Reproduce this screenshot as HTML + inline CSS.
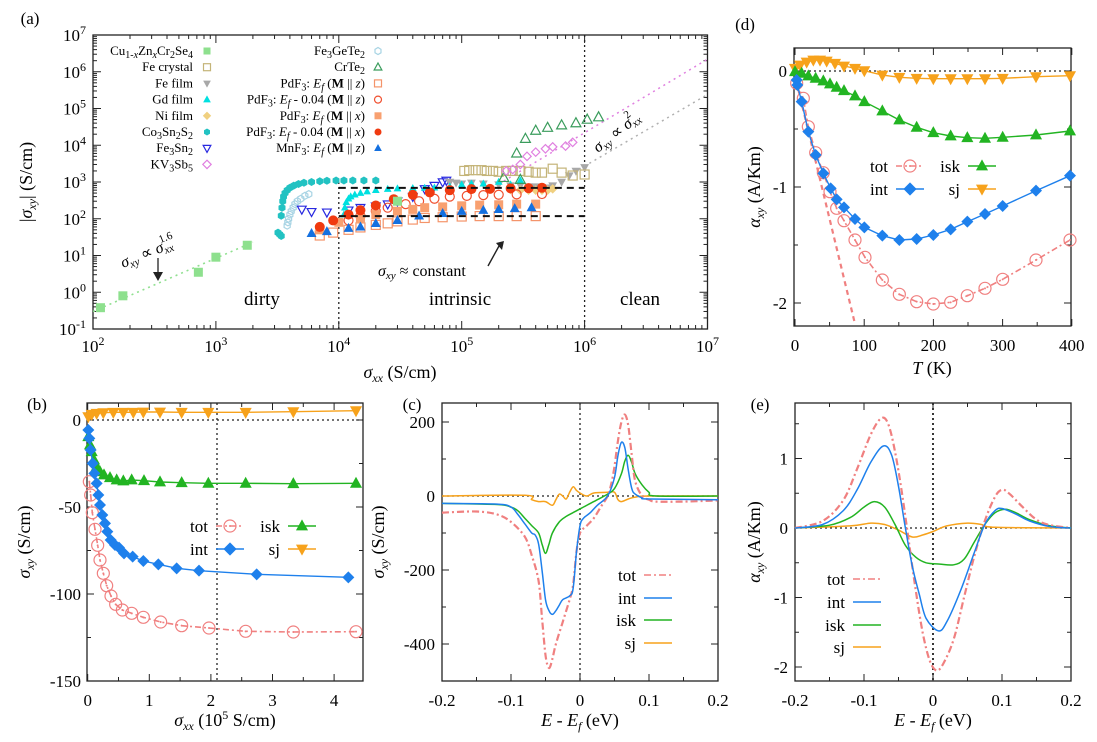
<!DOCTYPE html>
<html><head><meta charset="utf-8">
<style>
html,body{margin:0;padding:0;background:#fff;}
svg{display:block;font-family:"Liberation Serif",serif;}
</style></head>
<body>
<svg id="s" width="1097" height="742" viewBox="0 0 1097 742" xmlns="http://www.w3.org/2000/svg"></svg>
<script>
var o=[];
function P(s){o.push(s);}
function mk(t,x,y,c,r){r=r||4;
 var open=t[0]=='o';var k=open?t.slice(1):t;
 var st=open?'fill="none" stroke="'+c+'" stroke-width="1.2"':'fill="'+c+'"';
 if(k=='sq')P('<rect x="'+(x-r)+'" y="'+(y-r)+'" width="'+2*r+'" height="'+2*r+'" '+st+'/>');
 else if(k=='ci')P('<circle cx="'+x+'" cy="'+y+'" r="'+r+'" '+st+'/>');
 else if(k=='tu')P('<polygon points="'+x+','+(y-r*1.2)+' '+(x+r*1.1)+','+(y+r*0.8)+' '+(x-r*1.1)+','+(y+r*0.8)+'" '+st+'/>');
 else if(k=='td')P('<polygon points="'+x+','+(y+r*1.2)+' '+(x+r*1.1)+','+(y-r*0.8)+' '+(x-r*1.1)+','+(y-r*0.8)+'" '+st+'/>');
 else if(k=='di')P('<polygon points="'+x+','+(y-r*1.2)+' '+(x+r*1.2)+','+y+' '+x+','+(y+r*1.2)+' '+(x-r*1.2)+','+y+'" '+st+'/>');
 else if(k=='hx'){var p=[];for(var i=0;i<6;i++){var a=Math.PI/3*i+Math.PI/6;p.push((x+r*Math.cos(a)).toFixed(1)+','+(y+r*Math.sin(a)).toFixed(1));}P('<polygon points="'+p.join(' ')+'" '+st+'/>');}
}
function line(pts,c,w,dash){P('<polyline points="'+pts.map(function(p){return p[0].toFixed(1)+','+p[1].toFixed(1)}).join(' ')+'" fill="none" stroke="'+c+'" stroke-width="'+w+'"'+(dash?' stroke-dasharray="'+dash+'"':'')+'/>');}
function sline(pts,c,w,dash){var d='M'+pts[0][0].toFixed(1)+','+pts[0][1].toFixed(1);
 for(var i=0;i<pts.length-1;i++){var p0=pts[Math.max(0,i-1)],p1=pts[i],p2=pts[i+1],p3=pts[Math.min(pts.length-1,i+2)];
  var c1=[p1[0]+(p2[0]-p0[0])/6,p1[1]+(p2[1]-p0[1])/6],c2=[p2[0]-(p3[0]-p1[0])/6,p2[1]-(p3[1]-p1[1])/6];
  d+=' C'+c1[0].toFixed(1)+','+c1[1].toFixed(1)+' '+c2[0].toFixed(1)+','+c2[1].toFixed(1)+' '+p2[0].toFixed(1)+','+p2[1].toFixed(1);}
 P('<path d="'+d+'" fill="none" stroke="'+c+'" stroke-width="'+w+'"'+(dash?' stroke-dasharray="'+dash+'"':'')+'/>');}
function T(x,y,s,sz,anc,extra){P('<text x="'+x+'" y="'+y+'" font-size="'+(sz||16)+'" text-anchor="'+(anc||'middle')+'" '+(extra||'')+'>'+s+'</text>');}
function box(x0,y0,x1,y1){P('<rect x="'+x0+'" y="'+y0+'" width="'+(x1-x0)+'" height="'+(y1-y0)+'" fill="none" stroke="#222" stroke-width="1.3"/>');}
function tk(x0,y0,x1,y1,xs,ys,L){L=L||6;xs.forEach(function(x){P('<line x1="'+x+'" y1="'+y1+'" x2="'+x+'" y2="'+(y1-L)+'" stroke="#222"/><line x1="'+x+'" y1="'+y0+'" x2="'+x+'" y2="'+(y0+L)+'" stroke="#222"/>');});
 ys.forEach(function(y){P('<line x1="'+x0+'" y1="'+y+'" x2="'+(x0+L)+'" y2="'+y+'" stroke="#222"/><line x1="'+x1+'" y1="'+y+'" x2="'+(x1-L)+'" y2="'+y+'" stroke="#222"/>');});}
var PINK='#f08080',BLUE='#1e80ec',GREEN='#22b422',ORANGE='#f7a21b';

/* ---------- panel a ---------- */
var ax0=93,ax1=707.5,ay0=35,ay1=329;
function AX(v){return ax0+(Math.log10(v)-2)*122.9;}
function AY(v){return ay1-(Math.log10(v)+1)*36.75;}
T(30,24,'(a)',17);
box(ax0,ay0,ax1,ay1);
var xs=[],xm=[],ys=[],ym=[];
for(var d=2;d<=7;d++){xs.push(AX(Math.pow(10,d)));if(d<7)for(var m=2;m<10;m++)xm.push(AX(m*Math.pow(10,d)));}
for(var d=-1;d<=7;d++){ys.push(AY(Math.pow(10,d)));if(d<7)for(var m=2;m<10;m++)ym.push(AY(m*Math.pow(10,d)));}
tk(ax0,ay0,ax1,ay1,xs,ys,8);tk(ax0,ay0,ax1,ay1,xm,ym,4);
for(var d=2;d<=7;d++)T(AX(Math.pow(10,d)),352,'10<tspan dy="-7" font-size="12">'+d+'</tspan>',17);
for(var d=-1;d<=7;d++)T(86,AY(Math.pow(10,d))+6,'10<tspan dy="-7" font-size="12">'+d+'</tspan>',17,'end');
T(400,378,'<tspan font-style="italic">σ</tspan><tspan font-style="italic" font-size="12" dy="4">xx</tspan><tspan dy="-4"> (S/cm)</tspan>',18);
P('<text transform="translate(32,182) rotate(-90)" font-size="18" text-anchor="middle">|<tspan font-style="italic">σ</tspan><tspan font-style="italic" font-size="12" dy="4">xy</tspan><tspan dy="-4">| (S/cm)</tspan></text>');
line([[AX(1e4),182],[AX(1e4),ay1]],'#222',1.3,'2,3');
line([[AX(1e6),ay0],[AX(1e6),ay1]],'#222',1.3,'2,3');
line([[AX(100),AY(0.3)],[AX(2000),AY(23)]],'#90e090',1.6,'2,4');
line([[AX(2.2e5),AY(1060)],[AX(1e7),AY(2.2e6)]],'#e080e0',1.5,'2,4');
line([[AX(9e5),AY(2200)],[AX(1e7),AY(2.4e5)]],'#b0b0b0',1.5,'2,4');
function S(arr,t,c,r){arr.forEach(function(p){mk(t,AX(p[0]),AY(p[1]),c,r);});}
S([[3200,42],[3300,38],[3400,34],[3400,120],[3450,200],[3500,300],[3550,400],[3650,500],[3800,600],[4000,700],[4300,800],[4700,880],[5200,950],[6000,1000],[7000,1050],[8000,1080],[9500,1100],[11000,1100],[13000,1100],[16000,1100],[20000,1100]],'hx','#22c2c2',4);
S([[3800,65],[3850,80],[3900,100],[4000,130],[4100,160],[4250,200],[4400,250],[4600,300],[4900,350],[5300,420],[5700,470]],'ohx','#a8d4e4',3.5);
S([[5000,180],[6000,155],[8000,150],[12000,170],[15000,200],[20000,220],[25000,250],[30000,300],[40000,400],[50000,650],[60000,800],[70000,1000],[75000,1100]],'otd','#2828e0',4);
S([[8e4,1000],[9e4,950],[1e5,900],[1.2e5,950],[1.5e5,900],[2e5,850],[2.5e5,800],[3e5,800],[3.5e5,750],[4e5,750],[5e5,700],[5.5e5,800],[6.5e5,1000],[7.5e5,1500],[8.5e5,2000],[1e6,2500]],'td','#a8a8a8',4);
S([[11000,130],[11200,200],[11500,280],[12000,350],[12500,400],[13500,450],[15000,500],[17000,550],[20000,600],[25000,640],[30000,660],[40000,680],[50000,690],[60000,700],[80000,750],[1e5,850],[1.2e5,900],[1.5e5,900],[2e5,1000],[2.5e5,850],[3e5,1100]],'tu','#00e0e0',3.5);
S([[2.5e5,620],[3e5,600],[3.5e5,600],[4e5,600],[4.5e5,600],[5e5,600],[5.5e5,650]],'di','#f0d080',4);
S([[1.05e5,2000],[1.15e5,2100],[1.3e5,2100],[1.45e5,2100],[1.6e5,2000],[1.8e5,2000],[2e5,1900],[2.3e5,2000],[2.6e5,2000],[3e5,2000],[3.5e5,1900],[4e5,1800],[4.5e5,1800],[5.5e5,2300],[6.5e5,1800],[8e5,1500],[1e6,1600]],'osq','#c4b478',4.5);
S([[2.2e5,1300],[3e5,1150],[2.8e5,6000],[3.3e5,15000],[4e5,25000],[5e5,30000],[6.5e5,35000],[8.5e5,40000],[1.05e6,50000],[1.3e6,58000]],'otu','#3a9c5c',4.5);
S([[2.3e5,2000],[2.6e5,2200],[3e5,3000],[3.4e5,5000],[4e5,6500],[4.8e5,8000],[5.5e5,9000],[7e5,9500],[8e5,12000]],'odi','#e080e0',3.5);
S([[7000,35],[9000,42],[12000,50],[15000,58],[20000,68],[25000,75],[30000,85],[40000,95],[50000,105],[70000,110],[1e5,115],[1.4e5,118],[2e5,118],[2.8e5,118],[4e5,118]],'osq','#f4946a',4.5);
S([[12000,90],[15000,120],[20000,160],[25000,200],[35000,250],[45000,300],[60000,350],[80000,400],[1.1e5,420],[1.5e5,440],[2e5,450],[2.8e5,460],[4.5e5,470]],'oci','#f05030',4.5);
S([[7000,50],[1e4,80],[1.5e4,100],[2e4,130],[3e4,160],[4e4,180],[5e4,200],[7e4,210],[1e5,225],[1.4e5,235],[2e5,240],[2.8e5,250],[4e5,250]],'sq','#f8a070',4.5);
S([[7000,60],[9000,90],[12000,130],[15000,170],[20000,230],[28000,340],[40000,450],[55000,520],[80000,600],[1.2e5,640],[1.7e5,650],[2.5e5,670],[3.5e5,680],[4.5e5,700]],'ci','#f03a10',5);
S([[6000,40],[8000,45],[12000,55],[15000,60],[20000,75],[30000,90],[45000,120],[70000,140],[1e5,160],[1.5e5,170],[2e5,180],[2.7e5,190],[3.7e5,200]],'tu','#1470e0',4.5);
S([[115,0.38],[175,0.8],[720,3.5],[1000,9],[1800,19],[30000,300]],'sq','#8ee08e',4.5);
line([[AX(1e4),AY(690)],[AX(1e6),AY(690)]],'#111',2,'7,5');
line([[AX(1e4),AY(118)],[AX(1e6),AY(118)]],'#111',2,'7,5');
var L1=[['Cu<tspan font-size="10" dy="3">1-<tspan font-style="italic">x</tspan></tspan><tspan dy="-3">Zn</tspan><tspan font-size="10" font-style="italic" dy="3">x</tspan><tspan dy="-3">Cr</tspan><tspan font-size="10" dy="3">2</tspan><tspan dy="-3">Se</tspan><tspan font-size="10" dy="3">4</tspan>','sq','#8ee08e'],
['Fe crystal','osq','#c4b478'],['Fe film','td','#a8a8a8'],['Gd film','tu','#00e0e0'],['Ni film','di','#f0d080'],
['Co<tspan font-size="10" dy="3">3</tspan><tspan dy="-3">Sn</tspan><tspan font-size="10" dy="3">2</tspan><tspan dy="-3">S</tspan><tspan font-size="10" dy="3">2</tspan>','hx','#22c2c2'],
['Fe<tspan font-size="10" dy="3">3</tspan><tspan dy="-3">Sn</tspan><tspan font-size="10" dy="3">2</tspan>','otd','#2828e0'],
['KV<tspan font-size="10" dy="3">3</tspan><tspan dy="-3">Sb</tspan><tspan font-size="10" dy="3">5</tspan>','odi','#e080e0']];
L1.forEach(function(l,i){var y=51+i*16.2;T(193,y+4,l[0],13,'end');mk(l[1],207,y,l[2],3.5);});
var Ef='<tspan font-style="italic">E</tspan><tspan font-style="italic" font-size="10" dy="3">f</tspan><tspan dy="-3">',
Mz=' (<tspan font-weight="bold">M</tspan> || <tspan font-style="italic">z</tspan>)',Mx=' (<tspan font-weight="bold">M</tspan> || <tspan font-style="italic">x</tspan>)';
var L2=[['Fe<tspan font-size="10" dy="3">3</tspan><tspan dy="-3">GeTe</tspan><tspan font-size="10" dy="3">2</tspan>','ohx','#a8d4e4'],
['CrTe<tspan font-size="10" dy="3">2</tspan>','otu','#3a9c5c'],
['PdF<tspan font-size="10" dy="3">3</tspan><tspan dy="-3">: </tspan>'+Ef+Mz+'</tspan>','osq','#f4946a'],
['PdF<tspan font-size="10" dy="3">3</tspan><tspan dy="-3">: </tspan>'+Ef+' - 0.04'+Mz+'</tspan>','oci','#f05030'],
['PdF<tspan font-size="10" dy="3">3</tspan><tspan dy="-3">: </tspan>'+Ef+Mx+'</tspan>','sq','#f8a070'],
['PdF<tspan font-size="10" dy="3">3</tspan><tspan dy="-3">: </tspan>'+Ef+' - 0.04'+Mx+'</tspan>','ci','#f03a10'],
['MnF<tspan font-size="10" dy="3">3</tspan><tspan dy="-3">: </tspan>'+Ef+Mz+'</tspan>','tu','#1470e0']];
L2.forEach(function(l,i){var y=51+i*16.2;T(365,y+4,l[0],13,'end');mk(l[1],378,y,l[2],3.5);});
T(262,305,'dirty',19);T(460,305,'intrinsic',19);T(640,305,'clean',19);
P('<g transform="translate(123,268) rotate(-22)"><text font-size="16"><tspan font-style="italic">σ</tspan><tspan font-style="italic" font-size="11" dy="3">xy</tspan><tspan dy="-3"> ∝ </tspan><tspan font-style="italic">σ</tspan><tspan font-style="italic" font-size="11" dy="3">xx</tspan></text><text x="44" y="-9" font-size="11">1.6</text></g>');
line([[158,258],[158,276]],'#222',1.3);P('<polygon points="153,272 163,272 158,281" fill="#222"/>');
P('<text x="378" y="276" font-size="16"><tspan font-style="italic">σ</tspan><tspan font-style="italic" font-size="11" dy="3">xy</tspan><tspan dy="-3"> ≈ constant</tspan></text>');
line([[488,266],[499,246]],'#222',1.4);P('<polygon points="496,243 504,241 502,250" fill="#222"/>');
P('<g transform="translate(598,153) rotate(-38)"><text font-size="16"><tspan font-style="italic">σ</tspan><tspan font-style="italic" font-size="11" dy="3">xy</tspan><tspan dy="-3"> ∝ </tspan><tspan font-style="italic">σ</tspan><tspan font-style="italic" font-size="11" dy="3">xx</tspan></text><text x="44" y="-9" font-size="11">2</text></g>');

/* ---------- panel d ---------- */
var dx0=794,dx1=1071,dy0=48,dy1=326;
function DX(t){return 795+t*0.692;}function DY(v){return 71-v*116;}
T(745,30,'(d)',17);box(dx0,dy0,dx1,dy1);
tk(dx0,dy0,dx1,dy1,[0,100,200,300,400].map(DX),[0,-1,-2].map(DY),7);
tk(dx0,dy0,dx1,dy1,[50,150,250,350].map(DX),[-0.5,-1.5].map(DY),4);
[0,100,200,300,400].forEach(function(t){T(DX(t),351,t,17);});
T(787,77,'0',17,'end');T(787,193,'-1',17,'end');T(787,309,'-2',17,'end');
T(932,374,'<tspan font-style="italic">T</tspan> (K)',18);
P('<text transform="translate(760,187) rotate(-90)" font-size="18" text-anchor="middle"><tspan font-style="italic">α</tspan><tspan font-style="italic" font-size="12" dy="4">xy</tspan><tspan dy="-4"> (A/Km)</tspan></text>');
line([[dx0,71],[dx1,71]],'#222',1.3,'2,3');
function Z(arr){return arr.map(function(p){return [720+p[0]/3,p[1]/3];});}
var dtot=Z([[230,250],[250,295],[265,380],[287,458],[310,518],[330,575],[350,625],[372,662],[405,720],[435,772],[487,840],[538,883],[590,905],[640,912],[692,907],[742,887],[795,865],[848,838],[948,780],[1050,720]]);
var dint=Z([[230,240],[232,255],[245,305],[265,395],[287,465],[310,520],[332,565],[350,598],[372,622],[405,657],[433,682],[487,707],[538,720],[590,717],[640,705],[692,688],[742,665],[795,642],[848,618],[948,572],[1050,527]]);
var disk=Z([[225,215],[245,220],[265,228],[287,235],[310,243],[330,252],[350,262],[372,272],[405,288],[433,305],[487,333],[538,360],[590,382],[640,398],[692,408],[742,413],[795,415],[848,412],[948,405],[1050,393]]);
var dsj=Z([[225,205],[240,195],[260,186],[280,180],[300,180],[320,183],[345,190],[372,198],[405,205],[433,212],[487,225],[538,232],[590,235],[640,236],[692,236],[742,236],[795,236],[848,235],[948,230],[1050,227]]);
line(Z([[228,240],[405,972]]),PINK,2.2,'5,4');
line(dsj,ORANGE,1.4);dsj.forEach(function(p){mk('td',p[0],p[1],ORANGE,5.5);});
line(disk,GREEN,1.4);disk.forEach(function(p){mk('tu',p[0],p[1],GREEN,5.5);});
line(dtot,PINK,1.6,'6,3,2,3');dtot.forEach(function(p){mk('oci',p[0],p[1],PINK,6);mk('ci',p[0],p[1],PINK,1);});
line(dint,BLUE,1.4);dint.forEach(function(p){mk('di',p[0],p[1],BLUE,5);});
function leg(x,y,name,c,dash,m,w){T(x,y+6,name,17,'end');line([[x+8,y],[x+8+(w||28),y]],c,1.6,dash);if(m){mk(m,x+8+(w||28)/2,y,c,m=='oci'?6:5.5);if(m=='oci')mk('ci',x+22,y,c,1);}}
leg(888,166,'tot',PINK,'6,3,2,3','oci',28);leg(960,166,'isk',GREEN,null,'tu',28);
leg(888,189,'int',BLUE,null,'di',28);leg(960,189,'sj',ORANGE,null,'td',28);

/* ---------- panel b ---------- */
var bx0=87,bx1=363,by0=403,by1=681;
function BX(v){return 87.7+v*61.6;}function BY(v){return 420-v*1.74;}
T(37,410,'(b)',17);box(bx0,by0,bx1,by1);
tk(bx0,by0,bx1,by1,[0,1,2,3,4].map(BX),[0,-50,-100,-150].map(BY),7);
tk(bx0,by0,bx1,by1,[0.5,1.5,2.5,3.5].map(BX),[-25,-75,-125].map(BY),4);
[0,1,2,3,4].forEach(function(t){T(BX(t),706,t,17);});
[0,-50,-100,-150].forEach(function(t){T(81,BY(t)+6,t,17,'end');});
T(225,726,'<tspan font-style="italic">σ</tspan><tspan font-style="italic" font-size="12" dy="4">xx</tspan><tspan dy="-4"> (10</tspan><tspan font-size="12" dy="-7">5</tspan><tspan dy="7"> S/cm)</tspan>',18);
P('<text transform="translate(30,542) rotate(-90)" font-size="18" text-anchor="middle"><tspan font-style="italic">σ</tspan><tspan font-style="italic" font-size="12" dy="4">xy</tspan><tspan dy="-4"> (S/cm)</tspan></text>');
line([[bx0,420],[bx1,420]],'#222',1.3,'2,3');line([[217,by0],[217,by1]],'#222',1.3,'2,3');
function ZB(arr){return arr.map(function(p){return [p[0]/3,380+p[1]/3];});}
var btot=ZB([[268,305],[272,345],[277,398],[285,448],[293,496],[300,540],[310,580],[320,617],[333,648],[347,673],[367,690],[395,700],[430,712],[482,726],[545,737],[627,744],[737,754],[880,756],[1068,755]]);
var bint=ZB([[265,150],[268,175],[272,210],[278,250],[283,280],[290,310],[295,345],[300,375],[307,405],[315,430],[322,455],[332,480],[345,495],[357,503],[372,520],[398,530],[430,543],[475,553],[530,565],[597,572],[770,583],[1045,592]]);
var bisk=ZB([[265,170],[270,195],[275,215],[282,240],[290,260],[300,275],[312,285],[330,293],[350,300],[370,303],[395,300],[432,302],[480,306],[545,308],[625,310],[737,310],[880,311],[1068,310]]);
var bsj=ZB([[265,110],[275,103],[290,100],[310,98],[340,97],[370,97],[400,97],[430,96],[480,96],[545,97],[625,97],[737,97],[880,95],[1068,92]]);
line(bsj,ORANGE,1.4);bsj.forEach(function(p){mk('td',p[0],p[1],ORANGE,5.5);});
line(bisk,GREEN,1.4);bisk.forEach(function(p){mk('tu',p[0],p[1],GREEN,5.5);});
line(btot,PINK,1.6,'6,3,2,3');btot.forEach(function(p){mk('oci',p[0],p[1],PINK,6);mk('ci',p[0],p[1],PINK,1);});
line(bint,BLUE,1.4);bint.forEach(function(p){mk('di',p[0],p[1],BLUE,5);});
leg(208,526,'tot',PINK,'6,3,2,3','oci',28);leg(280,526,'isk',GREEN,null,'tu',28);
leg(208,549,'int',BLUE,null,'di',28);leg(280,549,'sj',ORANGE,null,'td',28);

/* ---------- panel c ---------- */
var cx0=442,cx1=718,cy0=403,cy1=681;
function CX(e){return 580+e*690;}function CY(v){return 496-v*0.37;}
T(412,410,'(c)',17);box(cx0,cy0,cx1,cy1);
tk(cx0,cy0,cx1,cy1,[-0.2,-0.1,0,0.1,0.2].map(CX),[200,0,-200,-400].map(CY),7);
tk(cx0,cy0,cx1,cy1,[-0.15,-0.05,0.05,0.15].map(CX),[100,-100,-300].map(CY),4);
[-0.2,-0.1,0,0.1,0.2].forEach(function(t){T(CX(t),706,t,17);});
[200,0,-200,-400].forEach(function(t){T(435,CY(t)+6,t,17,'end');});
T(580,726,'<tspan font-style="italic">E</tspan> - <tspan font-style="italic">E</tspan><tspan font-style="italic" font-size="12" dy="4">f</tspan><tspan dy="-4"> (eV)</tspan>',18);
P('<text transform="translate(384,542) rotate(-90)" font-size="18" text-anchor="middle"><tspan font-style="italic">σ</tspan><tspan font-style="italic" font-size="12" dy="4">xy</tspan><tspan dy="-4"> (S/cm)</tspan></text>');
line([[cx0,496],[cx1,496]],'#222',1.3,'2,3');line([[580,cy0],[580,cy1]],'#222',1.3,'2,3');
function C(arr){return arr.map(function(p){return [CX(p[0]),CY(p[1])];});}
sline(C([[-0.2,0],[-0.08,2],[-0.07,-10],[-0.06,-15],[-0.05,-15],[-0.04,-25],[-0.035,-10],[-0.03,5],[-0.025,0],[-0.02,-8],[-0.015,10],[-0.01,25],[-0.005,15],[0,8],[0.01,0],[0.02,8],[0.04,10],[0.05,10],[0.055,-10],[0.06,-15],[0.07,-8],[0.08,-3],[0.1,0],[0.2,0]]),ORANGE,1.5);
sline(C([[-0.2,-20],[-0.12,-23],[-0.1,-30],[-0.09,-40],[-0.08,-60],[-0.07,-80],[-0.06,-100],[-0.055,-130],[-0.05,-155],[-0.045,-130],[-0.04,-100],[-0.03,-70],[-0.02,-55],[-0.01,-45],[0,-35],[0.02,-15],[0.04,5],[0.05,20],[0.06,60],[0.065,95],[0.07,110],[0.075,90],[0.08,60],[0.09,30],[0.1,10],[0.11,0],[0.2,0]]),GREEN,1.5);
sline(C([[-0.2,-45],[-0.15,-42],[-0.12,-50],[-0.1,-70],[-0.08,-110],[-0.07,-160],[-0.06,-230],[-0.055,-330],[-0.05,-430],[-0.045,-465],[-0.04,-440],[-0.035,-400],[-0.025,-340],[-0.015,-280],[-0.01,-240],[-0.005,-150],[0,-100],[0.01,-80],[0.02,-60],[0.03,-30],[0.04,0],[0.045,30],[0.05,80],[0.055,150],[0.06,200],[0.065,220],[0.07,190],[0.075,110],[0.08,40],[0.09,0],[0.1,-10],[0.11,-15],[0.15,-15],[0.2,-12]]),PINK,2.2,'7,3,2,3');
sline(C([[-0.2,-20],[-0.12,-22],[-0.1,-30],[-0.09,-50],[-0.08,-75],[-0.07,-100],[-0.065,-105],[-0.06,-130],[-0.055,-200],[-0.05,-280],[-0.045,-310],[-0.04,-320],[-0.035,-310],[-0.03,-295],[-0.025,-280],[-0.015,-270],[-0.01,-250],[-0.005,-150],[0,-80],[0.005,-60],[0.015,-45],[0.025,-25],[0.04,0],[0.05,50],[0.055,110],[0.06,145],[0.065,130],[0.07,70],[0.075,20],[0.08,5],[0.09,-5],[0.1,-8],[0.2,-10]]),BLUE,1.5);
leg(636,575,'tot',PINK,'7,3,2,3',null,28);leg(636,598,'int',BLUE,null,null,28);leg(636,620,'isk',GREEN,null,null,28);leg(636,643,'sj',ORANGE,null,null,28);

/* ---------- panel e ---------- */
var ex0=795,ex1=1071,ey0=403,ey1=681;
function EX(e){return 933+e*690;}function EY(v){return 528-v*69.5;}
T(760,410,'(e)',17);box(ex0,ey0,ex1,ey1);
tk(ex0,ey0,ex1,ey1,[-0.2,-0.1,0,0.1,0.2].map(EX),[1,0,-1,-2].map(EY),7);
tk(ex0,ey0,ex1,ey1,[-0.15,-0.05,0.05,0.15].map(EX),[1.5,0.5,-0.5,-1.5].map(EY),4);
[-0.2,-0.1,0,0.1,0.2].forEach(function(t){T(EX(t),706,t,17);});
[1,0,-1,-2].forEach(function(t){T(788,EY(t)+6,t,17,'end');});
T(933,726,'<tspan font-style="italic">E</tspan> - <tspan font-style="italic">E</tspan><tspan font-style="italic" font-size="12" dy="4">f</tspan><tspan dy="-4"> (eV)</tspan>',18);
P('<text transform="translate(760,542) rotate(-90)" font-size="18" text-anchor="middle"><tspan font-style="italic">α</tspan><tspan font-style="italic" font-size="12" dy="4">xy</tspan><tspan dy="-4"> (A/Km)</tspan></text>');
line([[ex0,528],[ex1,528]],'#222',1.3,'2,3');line([[933,ey0],[933,ey1]],'#222',1.8,'2,3');
function E(arr){return arr.map(function(p){return [EX(p[0]),EY(p[1])];});}
sline(E([[-0.2,0],[-0.12,0.03],[-0.09,0.07],[-0.07,0.05],[-0.05,-0.03],[-0.03,-0.13],[-0.015,-0.1],[0,-0.05],[0.02,0.03],[0.05,0.07],[0.07,0.05],[0.09,0.01],[0.2,0]]),ORANGE,1.5);
sline(E([[-0.2,0],[-0.15,0.04],[-0.12,0.15],[-0.1,0.3],[-0.085,0.38],[-0.07,0.3],[-0.055,0.05],[-0.04,-0.25],[-0.025,-0.42],[-0.01,-0.5],[0.01,-0.52],[0.03,-0.53],[0.045,-0.45],[0.06,-0.2],[0.075,0.05],[0.09,0.22],[0.105,0.27],[0.12,0.22],[0.14,0.12],[0.17,0.03],[0.2,0]]),GREEN,1.5);
sline(E([[-0.2,0],[-0.16,0.1],[-0.13,0.4],[-0.11,0.85],[-0.09,1.35],[-0.075,1.58],[-0.065,1.5],[-0.055,1.1],[-0.045,0.5],[-0.035,-0.2],[-0.025,-0.9],[-0.015,-1.5],[-0.005,-1.9],[0.005,-2.05],[0.015,-1.95],[0.03,-1.6],[0.045,-1.0],[0.06,-0.4],[0.075,0.1],[0.09,0.45],[0.1,0.55],[0.11,0.5],[0.13,0.3],[0.15,0.12],[0.17,0.04],[0.2,0]]),PINK,2.2,'7,3,2,3');
sline(E([[-0.2,0],[-0.16,0.05],[-0.13,0.25],[-0.11,0.55],[-0.09,0.95],[-0.072,1.18],[-0.06,1.05],[-0.05,0.6],[-0.04,0],[-0.03,-0.55],[-0.02,-0.95],[-0.01,-1.3],[0.008,-1.48],[0.02,-1.35],[0.04,-0.9],[0.06,-0.35],[0.075,0.05],[0.09,0.25],[0.1,0.28],[0.12,0.2],[0.14,0.1],[0.17,0.02],[0.2,0]]),BLUE,1.5);
leg(845,579,'tot',PINK,'7,3,2,3',null,28);leg(845,602,'int',BLUE,null,null,28);leg(845,625,'isk',GREEN,null,null,28);leg(845,647,'sj',ORANGE,null,null,28);

document.getElementById('s').innerHTML=o.join('');
</script>
</body></html>
